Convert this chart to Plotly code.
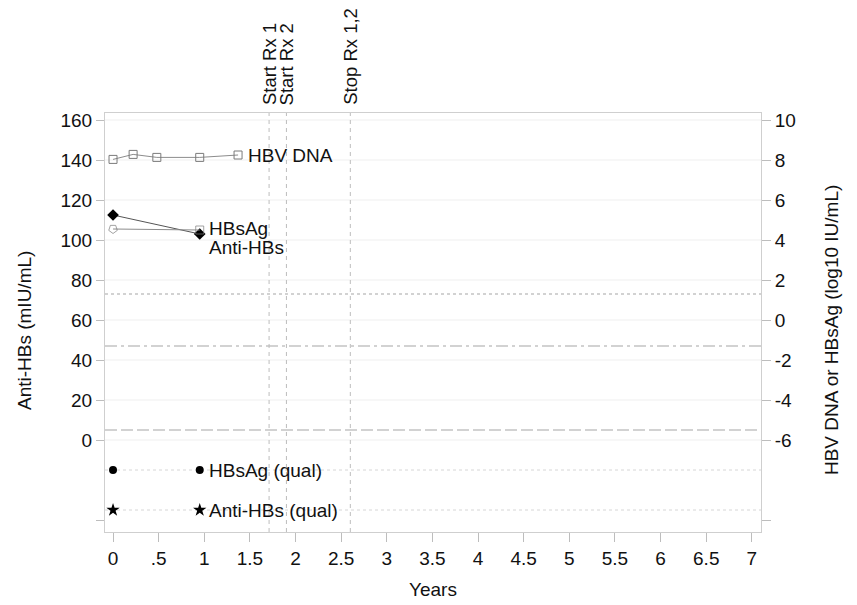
import plotly.graph_objects as go

# ---- data ----
dna_years = [0, 0.22, 0.48, 0.95, 1.37]
dna_log = [8.03, 8.28, 8.13, 8.13, 8.25]

hbsag_years = [0, 0.95]
hbsag_log = [4.55, 4.5]
hbsag_symbols = ["pentagon-open", "square-open"]

antihbs_years = [0, 0.95]
antihbs_vals = [112.5, 103]

hbsag_qual_years = [0, 0.95]
hbsag_qual_row = [-15, -15]
antihbs_qual_years = [0, 0.95]
antihbs_qual_row = [-35, -35]

rx_years = [1.71, 1.90, 2.60]
rx_labels = ["Start Rx 1", "Start Rx 2", "Stop Rx 1,2"]

left_ticks = [-40, 0, 20, 40, 60, 80, 100, 120, 140, 160]
left_ticktext = ["", "0", "20", "40", "60", "80", "100", "120", "140", "160"]
grid_vals = [0, 20, 40, 60, 80, 100, 120, 140, 160]
right_ticks = [-10, -6, -4, -2, 0, 2, 4, 6, 8, 10]
right_ticktext = ["", "-6", "-4", "-2", "0", "2", "4", "6", "8", "10"]
x_ticks = [0, 0.5, 1, 1.5, 2, 2.5, 3, 3.5, 4, 4.5, 5, 5.5, 6, 6.5, 7]
x_ticktext = ["0", ".5", "1", "1.5", "2", "2.5", "3", "3.5", "4", "4.5", "5", "5.5", "6", "6.5", "7"]

dna_lloq = 1.3      # right axis
hbsag_lloq = -1.3   # right axis
antihbs_cut = 5     # left axis

FONT = "Liberation Sans, Arial, Helvetica, sans-serif"
FS = 19
TXT = "#111111"
LEFT_RANGE = [-46, 163.5]
RIGHT_RANGE = [LEFT_RANGE[0] / 10 - 6, LEFT_RANGE[1] / 10 - 6]

fig = go.Figure()

fig.add_trace(go.Scatter(
    x=dna_years, y=dna_log, yaxis="y2", mode="lines+markers",
    line=dict(color="#8c8c8c", width=1),
    marker=dict(symbol="square-open", size=8, color="#7a7a7a", line=dict(width=1)),
    showlegend=False, hoverinfo="skip"))

fig.add_trace(go.Scatter(
    x=hbsag_years, y=hbsag_log, yaxis="y2", mode="lines+markers",
    line=dict(color="#8c8c8c", width=1),
    marker=dict(symbol=hbsag_symbols, size=[9, 8], angle=[180, 0], color="#7a7a7a", line=dict(width=1)),
    showlegend=False, hoverinfo="skip"))

fig.add_trace(go.Scatter(
    x=antihbs_years, y=antihbs_vals, yaxis="y", mode="lines+markers",
    line=dict(color="#555555", width=1),
    marker=dict(symbol="diamond", size=9, color="black"),
    showlegend=False, hoverinfo="skip"))

fig.add_trace(go.Scatter(
    x=hbsag_qual_years, y=hbsag_qual_row, yaxis="y", mode="markers",
    marker=dict(symbol="circle", size=8, color="black"),
    showlegend=False, hoverinfo="skip"))

fig.add_trace(go.Scatter(
    x=antihbs_qual_years, y=antihbs_qual_row, yaxis="y", mode="markers",
    marker=dict(symbol="star", size=10, color="black"),
    showlegend=False, hoverinfo="skip"))

shapes = []
for g in grid_vals:
    shapes.append(dict(type="line", xref="paper", x0=0, x1=1, yref="y", y0=g, y1=g,
                       line=dict(color="#efefef", width=1), layer="below"))
shapes.append(dict(type="line", xref="paper", x0=0, x1=1, yref="y2", y0=dna_lloq, y1=dna_lloq,
                   line=dict(color="#c4c4c4", width=1.3, dash="dot"), layer="below"))
shapes.append(dict(type="line", xref="paper", x0=0, x1=1, yref="y2", y0=hbsag_lloq, y1=hbsag_lloq,
                   line=dict(color="#c4c4c4", width=1.3, dash="12px,4px,3px,4px"), layer="below"))
shapes.append(dict(type="line", xref="paper", x0=0, x1=1, yref="y", y0=antihbs_cut, y1=antihbs_cut,
                   line=dict(color="#c4c4c4", width=1.3, dash="12px,4px"), layer="below"))
for r in [hbsag_qual_row[0], antihbs_qual_row[0]]:
    shapes.append(dict(type="line", xref="paper", x0=0, x1=1, yref="y", y0=r, y1=r,
                       line=dict(color="#d6d6d6", width=1, dash="dot"), layer="below"))
for xv in rx_years:
    shapes.append(dict(type="line", xref="x", x0=xv, x1=xv, yref="paper", y0=0, y1=1,
                       line=dict(color="#bdbdbd", width=1, dash="4px,4px"), layer="below"))

annotations = []
for xv, lab in zip(rx_years, rx_labels):
    annotations.append(dict(x=xv, xref="x", y=1, yref="paper", text=lab, textangle=-90,
                            xanchor="center", yanchor="bottom", yshift=6, xshift=0, showarrow=False,
                            font=dict(family=FONT, size=18.5, color=TXT)))

annotations.append(dict(x=dna_years[-1], y=dna_log[-1], xref="x", yref="y2", text="HBV DNA",
                        xanchor="left", yanchor="middle", xshift=8, showarrow=False,
                        font=dict(family=FONT, size=FS, color=TXT)))
annotations.append(dict(x=hbsag_years[-1], y=hbsag_log[-1], xref="x", yref="y2", text="HBsAg",
                        xanchor="left", yanchor="middle", xshift=7, yshift=2, showarrow=False,
                        font=dict(family=FONT, size=FS, color=TXT)))
annotations.append(dict(x=antihbs_years[-1], y=antihbs_vals[-1], xref="x", yref="y", text="Anti-HBs",
                        xanchor="left", yanchor="middle", xshift=7, yshift=-13, showarrow=False,
                        font=dict(family=FONT, size=FS, color=TXT)))
annotations.append(dict(x=hbsag_qual_years[-1], y=hbsag_qual_row[-1], xref="x", yref="y", text="HBsAg (qual)",
                        xanchor="left", yanchor="middle", xshift=7, showarrow=False,
                        font=dict(family=FONT, size=FS, color=TXT)))
annotations.append(dict(x=antihbs_qual_years[-1], y=antihbs_qual_row[-1], xref="x", yref="y", text="Anti-HBs (qual)",
                        xanchor="left", yanchor="middle", xshift=7, showarrow=False,
                        font=dict(family=FONT, size=FS, color=TXT)))

# axis titles
annotations.append(dict(x=-0.1235, y=0.482, xref="paper", yref="paper", text="Anti-HBs (mIU/mL)",
                        textangle=-90, xanchor="center", yanchor="middle", showarrow=False,
                        font=dict(family=FONT, size=FS, color=TXT)))
annotations.append(dict(x=1.1067, y=0.482, xref="paper", yref="paper", text="HBV DNA or HBsAg (log10 IU/mL)",
                        textangle=-90, xanchor="center", yanchor="middle", showarrow=False,
                        font=dict(family=FONT, size=FS, color=TXT)))
annotations.append(dict(x=0.5, y=-0.138, xref="paper", yref="paper", text="Years",
                        xanchor="center", yanchor="middle", showarrow=False,
                        font=dict(family=FONT, size=FS, color=TXT)))

# page body adds an 8px offset; margins compensate so the plot box sits at 105..761 x 113..532
fig.update_layout(
    width=857, height=605,
    margin=dict(l=97, r=104, t=105, b=81, autoexpand=False),
    paper_bgcolor="white", plot_bgcolor="white",
    font=dict(family=FONT, size=FS, color=TXT),
    shapes=shapes, annotations=annotations,
    xaxis=dict(range=[-0.088, 7.1], tickvals=x_ticks, ticktext=x_ticktext,
               showgrid=False, zeroline=False, showline=True, mirror=True, automargin=False,
               linecolor="#cfcfcf", linewidth=1, ticks="outside", ticklen=9, tickcolor="#bdbdbd",
               tickfont=dict(size=FS)),
    yaxis=dict(range=LEFT_RANGE, tickvals=left_ticks, ticktext=left_ticktext,
               showgrid=False, zeroline=False, showline=True, mirror=True, automargin=False,
               linecolor="#cfcfcf", linewidth=1, ticks="outside", ticklen=8, tickcolor="#bdbdbd",
               tickfont=dict(size=FS)),
    yaxis2=dict(range=RIGHT_RANGE, tickvals=right_ticks, ticktext=right_ticktext,
                overlaying="y", side="right", showgrid=False, zeroline=False, showline=False,
                automargin=False, ticks="outside", ticklen=9, tickcolor="#bdbdbd",
                tickfont=dict(size=FS)),
)

fig.write_html("out.html")
